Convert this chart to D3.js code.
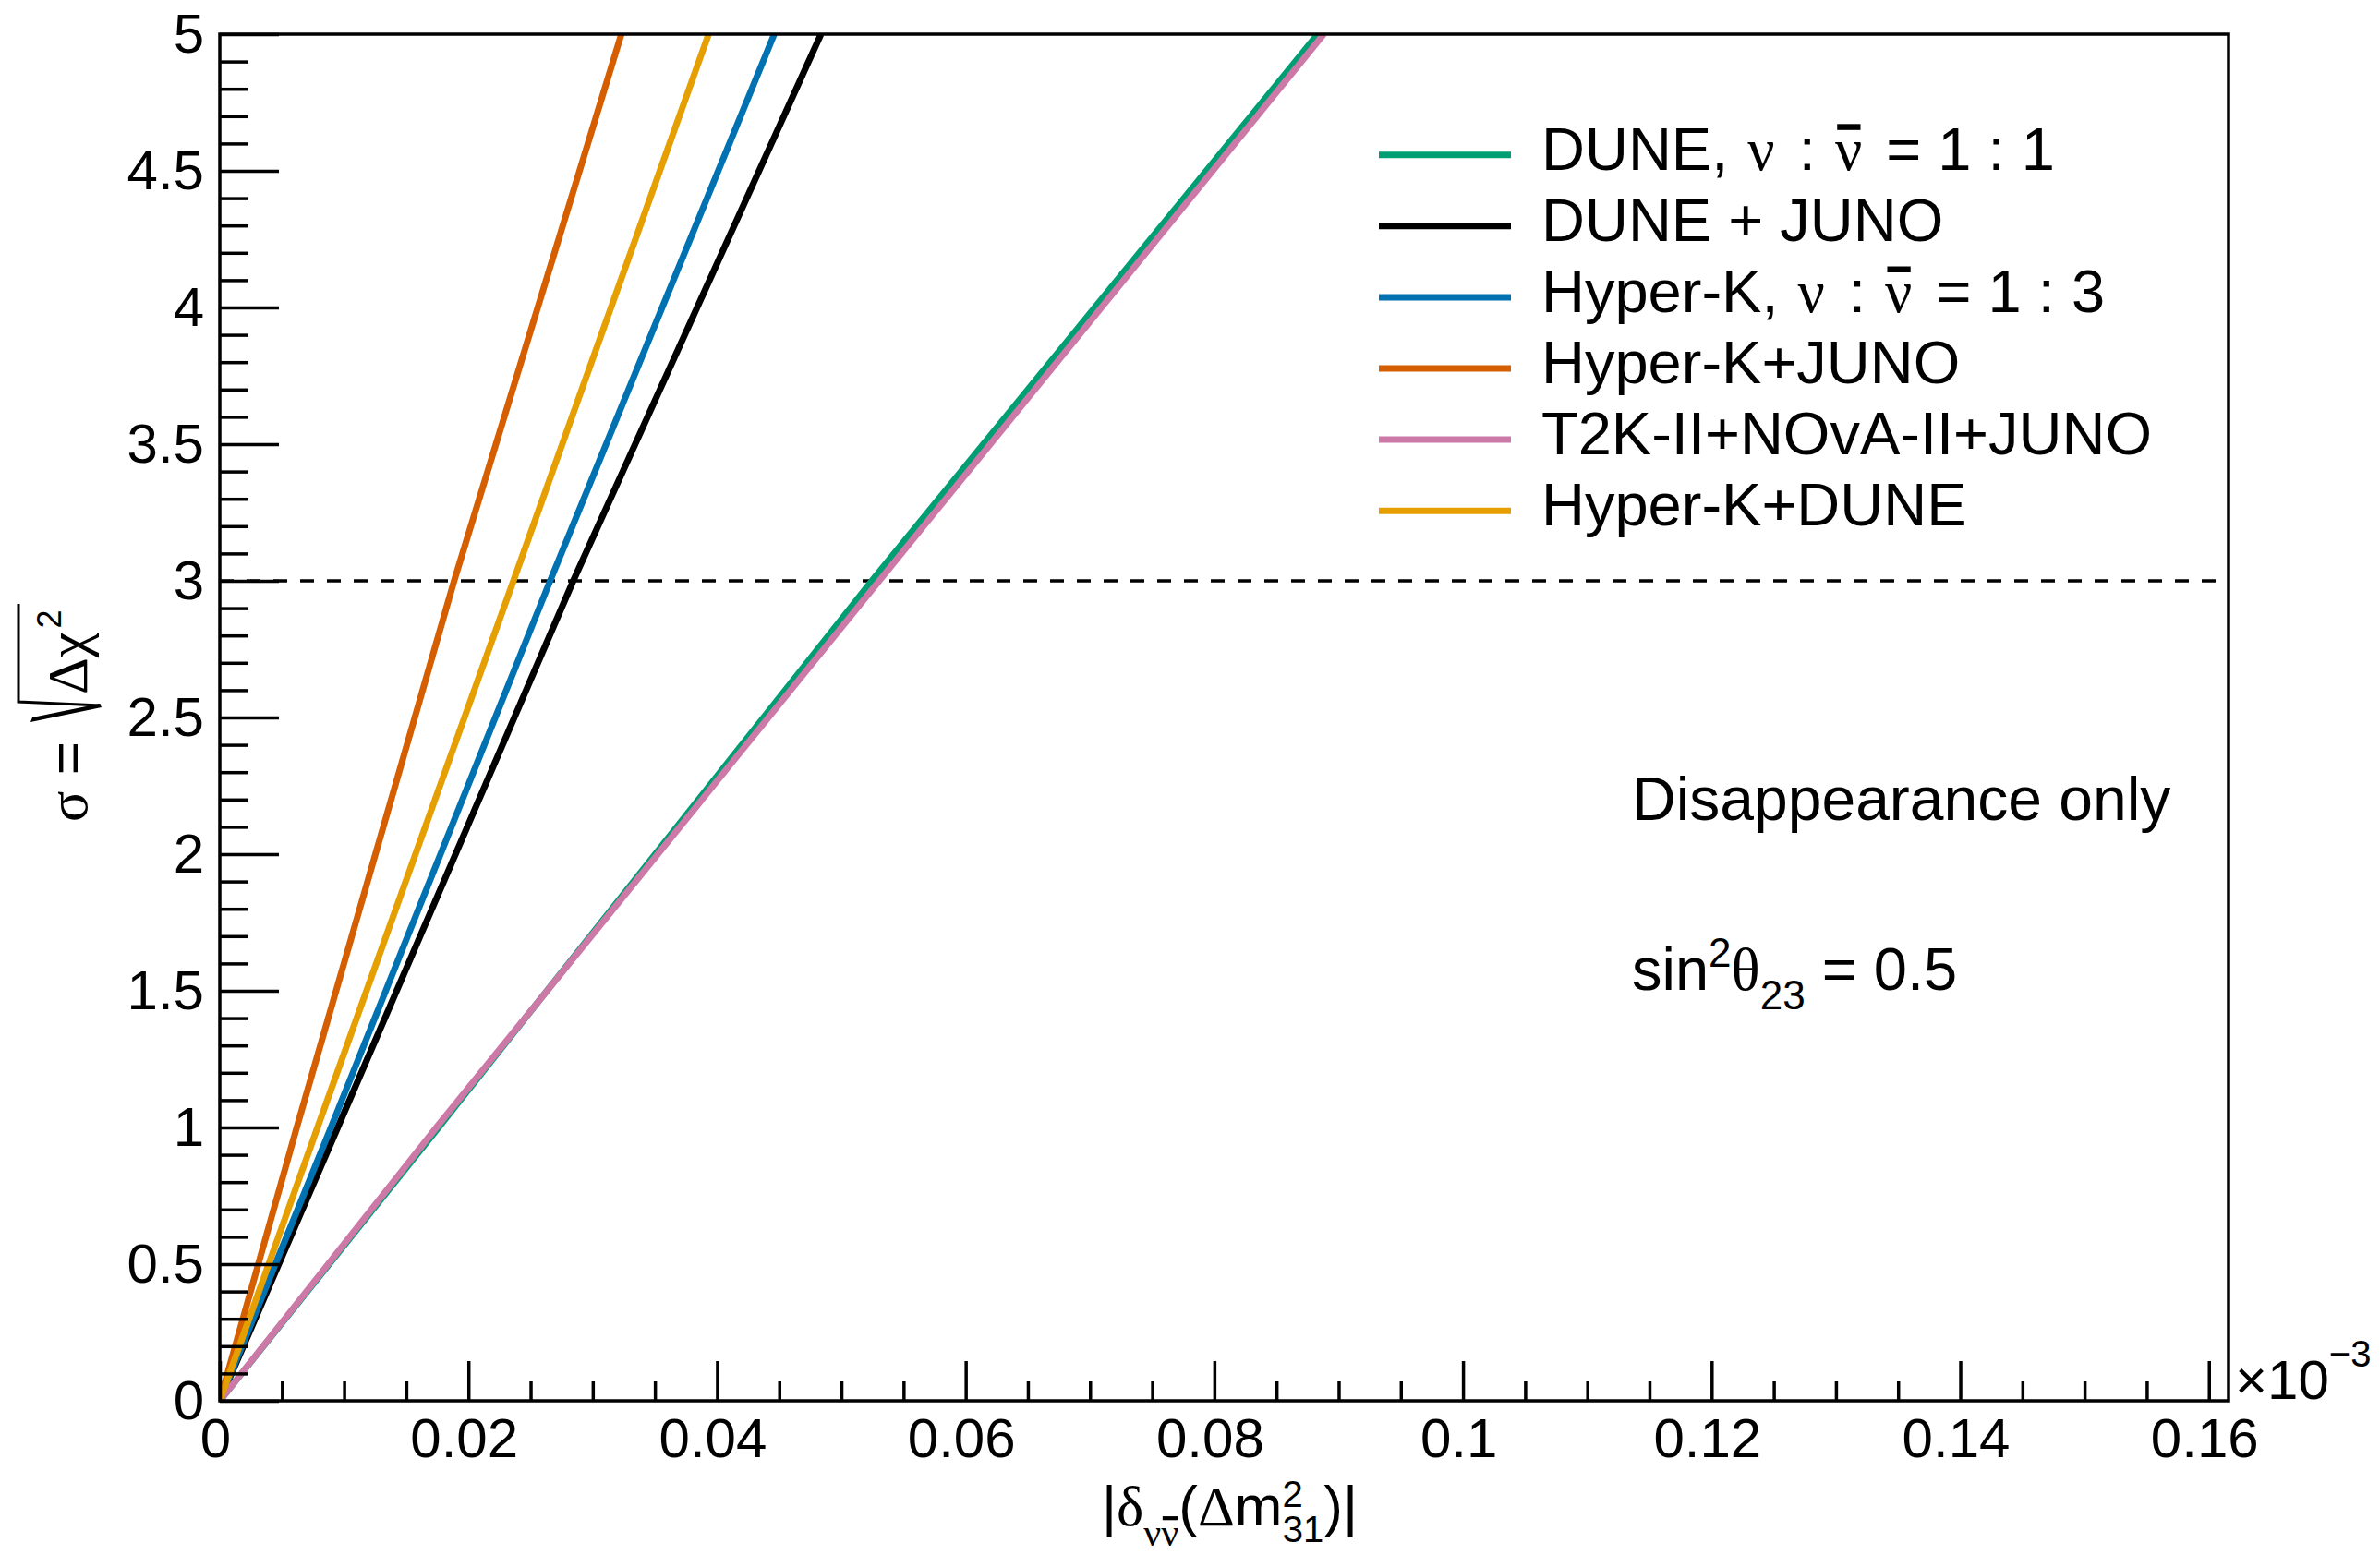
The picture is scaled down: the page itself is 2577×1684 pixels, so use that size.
<!DOCTYPE html>
<html>
<head>
<meta charset="utf-8">
<script src="https://cdn.jsdelivr.net/npm/d3@7"></script>
<style>
  body { margin: 0; background: #fff; }
  svg { display: block; font-family: "Liberation Sans", Arial, Helvetica, sans-serif; }
  .greek { font-family: "Liberation Serif", "DejaVu Serif", serif; }
  .axis line { stroke: #000; stroke-width: 3.5; }
  .axis text { font-size: 60px; fill: #000; font-family: "Liberation Sans", Arial, sans-serif; }
</style>
</head>
<body>
<div id="chart"></div>
<script>

const sigma = [0, 1, 3, 5];

// |delta(dm^2_31)| in units of 1e-3 eV^2, one array per experiment
const dune       = [0, 0.01760, 0.05245, 0.08831];
const duneJuno   = [0, 0.00949, 0.02843, 0.04836];
const hyperK     = [0, 0.00894, 0.02657, 0.04460];
const hyperKJuno = [0, 0.00619, 0.01885, 0.03230];
const t2kNova    = [0, 0.01742, 0.05304, 0.08880];
const hyperKDune = [0, 0.00786, 0.02362, 0.03932];

const seriesLabels = [
    "DUNE, #nu : #bar{#nu} = 1 : 1",
    "DUNE + JUNO",
    "Hyper-K, #nu : #bar{#nu} = 1 : 3",
    "Hyper-K+JUNO",
    "T2K-II+NOvA-II+JUNO",
    "Hyper-K+DUNE"
];
const seriesColors = ["#009E73", "#000000", "#0072B2", "#D55E00", "#CC79A7", "#E69F00"];
const seriesValues = [dune, duneJuno, hyperK, hyperKJuno, t2kNova, hyperKDune];

const xTicks = [0, 0.02, 0.04, 0.06, 0.08, 0.1, 0.12, 0.14, 0.16];
const xTickLabels = ["0", "0.02", "0.04", "0.06", "0.08", "0.1", "0.12", "0.14", "0.16"];
const yTicks = [0, 0.5, 1, 1.5, 2, 2.5, 3, 3.5, 4, 4.5, 5];
const yTickLabels = ["0", "0.5", "1", "1.5", "2", "2.5", "3", "3.5", "4", "4.5", "5"];
const xMax = 0.16158;
const threshold = 3;

// draws a run of tspans, ROOT-latex style; bar:true puts an overbar on that glyph
function drawRich(parent, x, y, parts, baseSize) {
    let text = parent.append("text").attr("x", x).attr("y", y).attr("fill", "#000");
    let offset = 0, base = y;
    let bars = [];
    parts.forEach(p => {
        let size = p.size || baseSize;
        let ts = text.append("tspan").text(p.t).attr("font-size", size);
        if (p.greek) ts.attr("class", "greek");
        if (p.dy) { ts.attr("dy", p.dy); base += p.dy; }
        if (p.dx) ts.attr("dx", p.dx);
        if (p.bar) bars.push({ idx: offset, base: base, size: size });
        offset += p.t.length;
    });
    bars.forEach(b => {
        let e = text.node().getExtentOfChar(b.idx);
        parent.append("rect")
            .attr("x", e.x + e.width * 0.08)
            .attr("width", e.width * 0.86)
            .attr("y", b.base - 0.76 * b.size)
            .attr("height", 0.1 * b.size)
            .attr("fill", "#000");
    });
    return text;
}

// turns "#nu" / "#bar{#nu}" into greek tspans, with a little extra room like ROOT gives
function parseLabel(str) {
    let prevGreek = false;
    return str.split(/(#bar\{#nu\}|#nu)/).filter(s => s.length).map(s => {
        let part;
        if (s === "#nu") part = { t: "\u03bd", greek: true, dx: 3 };
        else if (s === "#bar{#nu}") part = { t: "\u03bd", greek: true, bar: true, dx: 3 };
        else part = { t: s, dx: prevGreek ? 8 : 0 };
        prevGreek = !!part.greek;
        return part;
    });
}

class makeLineChart {

    constructor(opts) {
        this.element = opts.element;
        this.update();
    }

    _setDimensions() {
        this.outerWidth = 2577;
        this.outerHeight = 1684;
        this.margin = { top: 37, right: 164, bottom: 167, left: 238 };
        this.width = this.outerWidth - this.margin.left - this.margin.right;
        this.height = this.outerHeight - this.margin.top - this.margin.bottom;
    }

    _setScales() {
        this.xScale = d3.scaleLinear().domain([0, xMax]).range([0, this.width]);
        this.yScale = d3.scaleLinear().domain([0, 5]).range([this.height, 0]);

        let xMinor = d3.range(0, xMax, 0.005).filter((d, i) => i % 4 !== 0);
        let yMinor = d3.range(0, 5.0001, 0.1).filter((d, i) => i % 5 !== 0);

        this.xAxis = d3.axisBottom(this.xScale)
            .tickValues(xTicks)
            .tickSize(-43)
            .tickSizeOuter(0)
            .tickPadding(18)
            .tickFormat((d, i) => xTickLabels[i]);
        this.xAxisMinor = d3.axisBottom(this.xScale)
            .tickValues(xMinor).tickSize(-21).tickSizeOuter(0).tickFormat("");

        this.yAxis = d3.axisLeft(this.yScale)
            .tickValues(yTicks)
            .tickSize(-64)
            .tickSizeOuter(0)
            .tickPadding(17)
            .tickFormat((d, i) => yTickLabels[i]);
        this.yAxisMinor = d3.axisLeft(this.yScale)
            .tickValues(yMinor).tickSize(-31).tickSizeOuter(0).tickFormat("");
    }

    update() {
        this._setDimensions();
        this._setScales();
        this.draw();
    }

    draw() {
        this.element.innerHTML = "";

        this.svg = d3.select(this.element).append("svg")
            .attr("width", this.outerWidth)
            .attr("height", this.outerHeight);

        this.svg.append("rect").attr("width", this.outerWidth).attr("height", this.outerHeight).attr("fill", "#fff");

        this.plot = this.svg.append("g")
            .attr("transform", `translate(${this.margin.left},${this.margin.top})`)
            .attr("class", "chart-g");

        this.plot.append("clipPath").attr("id", "plot-clip")
            .append("rect").attr("width", this.width).attr("height", this.height);

        this.drawLines();
        this.drawAxes();
        this.drawLegend();
        this.drawTexts();
    }

    drawAxes() {
        [this.xAxis, this.xAxisMinor].forEach(ax => {
            this.plot.append("g")
                .attr("class", "axis axis--x")
                .attr("transform", `translate(0,${this.height})`)
                .call(ax)
                .call(g => g.select(".domain").remove());
        });
        this.plot.selectAll(".axis--x text").attr("dx", -5);

        [this.yAxis, this.yAxisMinor].forEach(ax => {
            this.plot.append("g")
                .attr("class", "axis axis--y")
                .call(ax)
                .call(g => g.select(".domain").remove());
        });

        // frame
        this.plot.append("rect")
            .attr("width", this.width)
            .attr("height", this.height)
            .attr("fill", "none")
            .attr("stroke", "#000")
            .attr("stroke-width", 3.5);

        // x10^-3 exponent
        drawRich(this.plot, this.width + 7, this.height - 2, [
            { t: "\u00d710" },
            { t: "\u22123", size: 40, dy: -35 }
        ], 60);
    }

    drawLines() {
        let line = d3.line()
            .x(d => this.xScale(d[0]))
            .y(d => this.yScale(d[1]));

        let g = this.plot.append("g").attr("clip-path", "url(#plot-clip)");

        g.append("line")
            .attr("x1", 0).attr("x2", this.width)
            .attr("y1", this.yScale(threshold)).attr("y2", this.yScale(threshold))
            .attr("stroke", "#000")
            .attr("stroke-width", 3.5)
            .attr("stroke-dasharray", "15,14");

        g.selectAll(".series")
            .data(seriesValues)
            .enter().append("path")
            .attr("class", "series")
            .attr("fill", "none")
            .attr("stroke", (d, i) => seriesColors[i])
            .attr("stroke-width", 7)
            .attr("d", vals => line(vals.map((v, j) => [v, sigma[j]])));
    }

    drawLegend() {
        let lg = this.svg.append("g").attr("class", "legend");
        seriesLabels.forEach((lbl, i) => {
            let y = 167.7 + i * 77.1;
            lg.append("line")
                .attr("x1", 1493).attr("x2", 1636)
                .attr("y1", y).attr("y2", y)
                .attr("stroke", seriesColors[i])
                .attr("stroke-width", 7);
            drawRich(lg, 1669, y + 16, parseLabel(lbl), 65);
        });
    }

    drawTexts() {
        let s = this.svg;

        drawRich(s, 1767, 888, [{ t: "Disappearance only" }], 66);

        drawRich(s, 1767, 1072, [
            { t: "sin" },
            { t: "2", size: 44, dy: -25 },
            { t: "\u03b8", greek: true, dy: 25 },
            { t: "23", size: 44, dy: 21 },
            { t: " = 0.5", dy: -21 }
        ], 65);

        // x title |delta_{nu nubar}(Dm^2_31)|
        drawRich(s, 1193, 1652, [
            { t: "|" },
            { t: "\u03b4", greek: true },
            { t: "\u03bd", greek: true, size: 42, dy: 22 },
            { t: "\u03bd", greek: true, size: 42, bar: true },
            { t: "(", dy: -22 },
            { t: "\u0394", greek: true },
            { t: "m" },
            { t: "2", size: 40, dy: -20 },
            { t: "31", size: 40, dy: 38, dx: -22 },
            { t: ")|", dy: -18 }
        ], 62);

        // y title sigma = sqrt(Dchi^2), rotated
        let yt = s.append("g").attr("transform", "translate(94,890) rotate(-90)");
        drawRich(yt, 0, 0, [
            { t: "\u03c3", greek: true },
            { t: " =" }
        ], 62);
        yt.append("path")
            .attr("d", "M108,-61 L113,-59 L128,14 L124,16 Z")
            .attr("fill", "#000");
        yt.append("path")
            .attr("d", "M126,15 L130,-74 L236,-74")
            .attr("fill", "none")
            .attr("stroke", "#000")
            .attr("stroke-width", 3);
        drawRich(yt, 138, 0, [
            { t: "\u0394\u03c7", greek: true },
            { t: "2", size: 36, dy: -28, dx: 4 }
        ], 62);
    }
}

new makeLineChart({ element: document.getElementById("chart") });

</script>
</body>
</html>
